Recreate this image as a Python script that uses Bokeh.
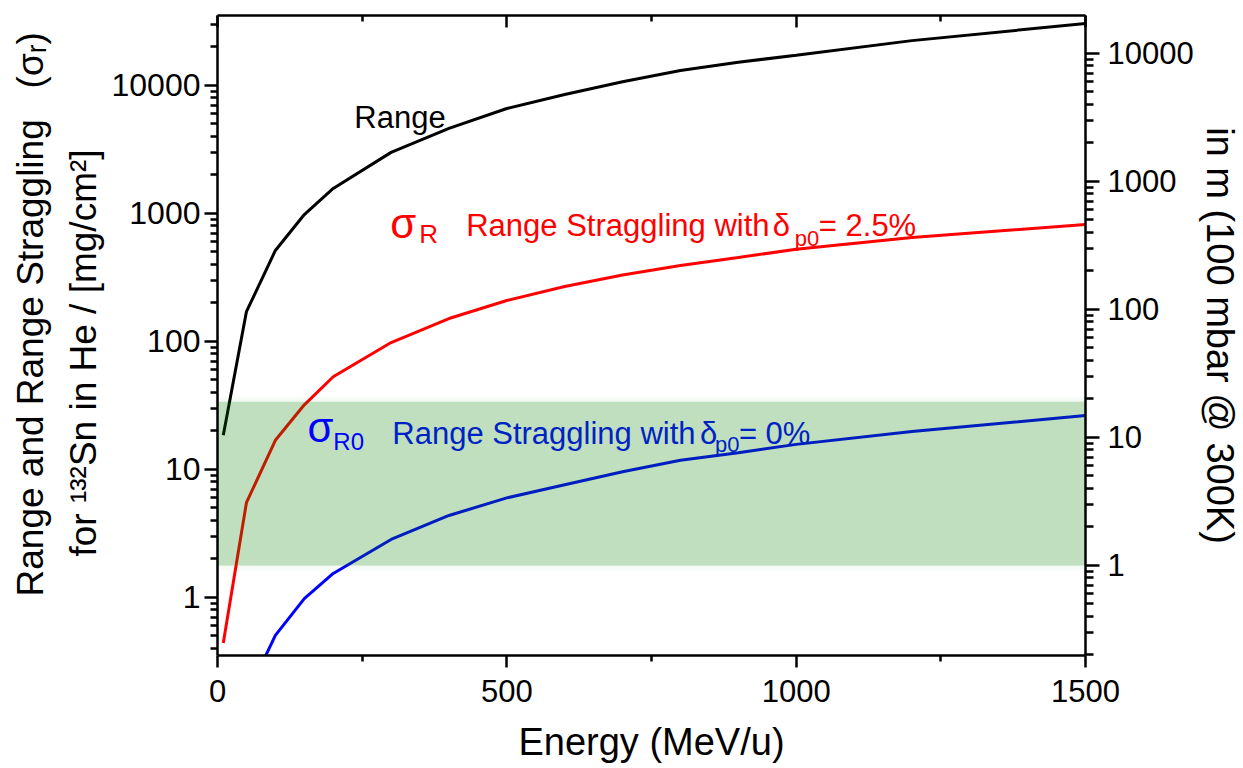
from bokeh.plotting import figure
from bokeh.models import (Range1d, LogAxis, LinearAxis, Label, FixedTicker, Title,
                          LogScale, NumeralTickFormatter)
from bokeh.embed import file_html
from bokeh.resources import INLINE

# ---------------- data ----------------
energy = [10, 50, 100, 150, 200, 300, 400, 500, 600, 700, 800, 900, 1000, 1200, 1500]
range_mg = [18.5, 171, 514, 981, 1567, 3000, 4616, 6610, 8510, 10700, 13100, 15200, 17200, 22400, 30500]
sigma_r = [0.44, 5.5, 16.9, 32, 53, 98, 151, 209, 269, 331, 392, 453, 525, 650, 820]
sigma_r0 = [0.014, 0.17, 0.505, 0.98, 1.54, 2.84, 4.37, 6.0, 7.6, 9.6, 11.8, 13.5, 15.7, 19.8, 26.4]
band_m = [1.0, 19.0]                 # shaded band, in m (right axis)
mg_per_m = 1.78                      # left-axis units per right-axis unit
x_ticks = [0, 500, 1000, 1500]
x_minor = [250, 750, 1250]
y_ticks = [1, 10, 100, 1000, 10000]

FONT = "Liberation Sans"
Y0, Y1 = 0.352, 35200
FL, FT, FR, FB = 217, 15, 1086, 655     # frame edges in page pixels

p = figure(width=1243, height=768, x_range=Range1d(0, 1500), y_range=Range1d(Y0, Y1),
           y_axis_type="log", output_backend="svg", toolbar_location=None,
           min_border_left=FL, min_border_right=1243 - FR, min_border_top=FT,
           min_border_bottom=768 - FB)
p.xgrid.visible = False
p.ygrid.visible = False
p.outline_line_color = None
p.background_fill_color = "white"
p.border_fill_color = "white"

p.extra_y_ranges = {"m": Range1d(Y0 / mg_per_m, Y1 / mg_per_m)}
p.extra_y_scales = {"m": LogScale()}

y_minor = [k * 10.0 ** d for d in range(-1, 5) for k in range(2, 10)]

def style(ax):
    ax.axis_line_width = 2.5
    ax.axis_line_color = "black"
    ax.major_tick_line_width = 2.5
    ax.minor_tick_line_width = 2.5
    ax.major_tick_line_color = "black"
    ax.minor_tick_line_color = "black"
    ax.major_label_text_font = FONT
    ax.major_label_text_color = "black"
    ax.axis_label_text_font = FONT
    ax.axis_label_text_font_style = "normal"
    ax.axis_label_text_color = "black"

# bottom axis
xa = p.xaxis[0]
xa.ticker = FixedTicker(ticks=x_ticks, minor_ticks=x_minor)
style(xa)
xa.major_tick_out = 12
xa.major_tick_in = 0
xa.minor_tick_out = 6
xa.minor_tick_in = 0
xa.major_label_standoff = 12
xa.major_label_text_font_size = "31px"
xa.major_label_text_line_height = 1.0
xa.axis_label = "Energy (MeV/u)"
xa.axis_label_text_font_size = "38px"
xa.axis_label_text_line_height = 1.0
xa.axis_label_standoff = 16

# left axis
ya = p.yaxis[0]
ya.ticker = FixedTicker(ticks=y_ticks, minor_ticks=y_minor)
ya.formatter = NumeralTickFormatter(format="0")
style(ya)
ya.major_tick_out = 13
ya.major_tick_in = 0
ya.minor_tick_out = 7
ya.minor_tick_in = 0
ya.major_label_standoff = 4
ya.major_label_text_font_size = "32px"

# right axis
ra = LogAxis(y_range_name="m", ticker=FixedTicker(ticks=y_ticks, minor_ticks=y_minor),
             formatter=NumeralTickFormatter(format="0"))
style(ra)
ra.major_tick_out = 14
ra.major_tick_in = 0
ra.minor_tick_out = 8
ra.minor_tick_in = 0
ra.major_label_standoff = 8
ra.major_label_text_font_size = "31px"
ra.axis_label = "in m (100 mbar @ 300K)"
ra.axis_label_text_font_size = "38px"
ra.axis_label_standoff = 2
p.add_layout(ra, "right")

# top axis (ticks only)
ta = LinearAxis(ticker=FixedTicker(ticks=x_ticks, minor_ticks=x_minor))
style(ta)
ta.major_tick_out = 0
ta.major_tick_in = 12
ta.minor_tick_out = 0
ta.minor_tick_in = 6
ta.major_label_standoff = 0
ta.major_label_text_font_size = "1px"
ta.major_label_text_alpha = 0
p.add_layout(ta, "above")

# left titles (two lines, stacked outward from the left axis)
def side_title(s, start_py, size):
    p.add_layout(Title(text=s, align="left", offset=FB - start_py, standoff=10,
                       text_font=FONT, text_font_size=f"{size}px",
                       text_font_style="normal", text_color="black"), "left")

side_title("for ¹³²Sn in He / [mg/cm²]", 556, 37)
side_title("Range and Range Straggling\u00a0\u00a0\u00a0(σᵣ)", 596, 37)

# curves
p.line(energy, range_mg, line_color="black", line_width=3)
p.line(energy, sigma_r, line_color="#ff0000", line_width=3)
p.line(energy, sigma_r0, line_color="#0000ff", line_width=3)

# shaded band (on top, semi-transparent) with a soft edge
lo, hi = band_m[0] * mg_per_m, band_m[1] * mg_per_m
for k in (6, 4, 2):
    f = 10 ** (k / 128)
    p.quad(left=x_ticks[0], right=x_ticks[-1], bottom=lo / f, top=hi * f,
           fill_color="#008000", fill_alpha=0.015, line_color=None)
p.quad(left=x_ticks[0], right=x_ticks[-1], bottom=lo, top=hi,
       fill_color="#008000", fill_alpha=0.21, line_color=None)

# --- in-plot text: positions in page pixels, mapped through the axes ---
def dx(px):
    return (px - FL) * 1500 / (FR - FL)

def dy(py):
    return 10 ** ((597 - py) / 128)

def txt(s, px, py, size, color="black"):
    p.add_layout(Label(x=dx(px), y=dy(py), text=s, text_font=FONT,
                       text_font_size=f"{size}px", text_color=color,
                       text_align="left", text_baseline="alphabetic"))

txt("Range", 354, 117, 31, "black")

RED = "#ff0000"
txt("σ", 390, 223, 42, RED)
txt("R", 419, 234, 26, RED)
txt("Range Straggling with", 466, 225, 31, RED)
txt("δ", 773, 225, 31, RED)
txt("p0", 795, 238, 22, RED)
txt("= 2.5%", 819, 225, 31, RED)

BLUE = "#0000ff"
BLUE2 = "#0022c4"
txt("σ", 307, 427, 42, BLUE)
txt("R0", 333, 441, 24, BLUE)
txt("Range Straggling with", 392, 433, 31, BLUE2)
txt("δ", 700, 433, 31, BLUE2)
txt("p0", 715, 444, 22, BLUE2)
txt("= 0%", 739, 433, 31, BLUE2)

open("out.html", "w").write(file_html(p, INLINE))
